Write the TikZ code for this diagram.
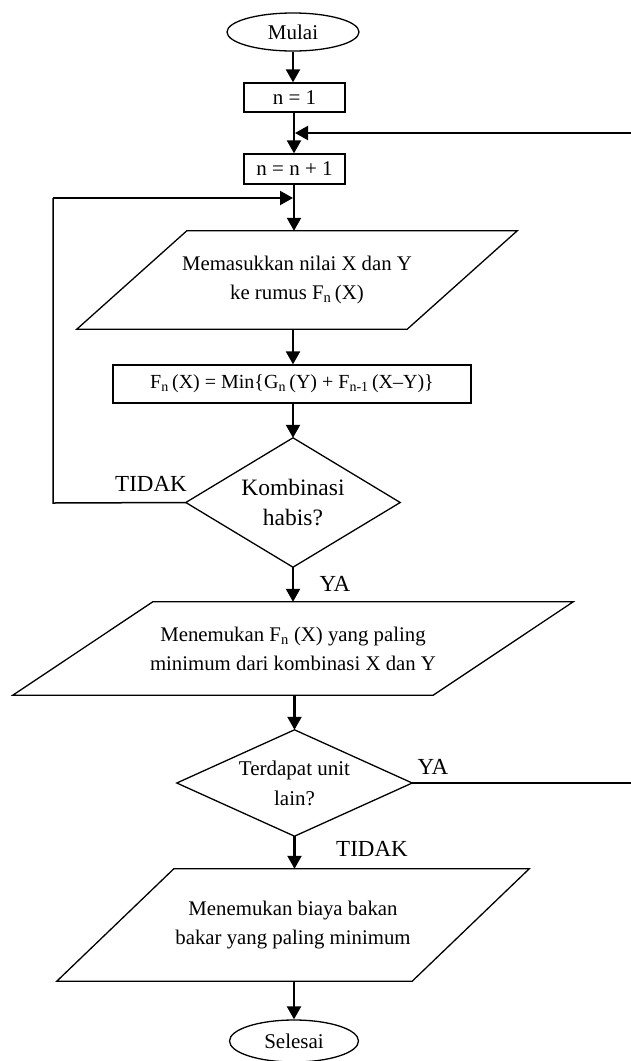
\documentclass[tikz,border=0pt]{standalone}
\usepackage{fontspec}
\setmainfont{Liberation Serif}
\usetikzlibrary{arrows.meta,shapes.geometric,calc}
\tikzset{
  shapeline/.style={line width=1.3pt, line join=miter},
  boxnode/.style={draw, shapeline, rectangle, inner sep=0pt, align=center, font=\fontsize{21}{29}\selectfont},
  ovalnode/.style={draw, shapeline, ellipse, inner sep=0pt, align=center, font=\fontsize{21}{29}\selectfont},
  holder/.style={draw=none, rectangle, inner sep=0pt, align=center, font=\fontsize{20.8}{29}\selectfont},
  bigholder/.style={holder, font=\fontsize{23.5}{30}\selectfont},
  lbl/.style={inner sep=0pt, font=\fontsize{23}{28}\selectfont},
  flow/.style={line width=2.2pt, -{Triangle[length=13pt,width=14pt]}},
  thinline/.style={line width=1.5pt},
}
\begin{document}
\begin{tikzpicture}[x=1pt,y=-1pt]
\useasboundingbox (0,0) rectangle (630,1061);

% nodes
\node[ovalnode, minimum width=132pt, minimum height=38pt] (mulai) at (293,32) {Mulai};
\node[boxnode, minimum width=101pt, minimum height=29pt] (n1) at (294.5,97.5) {n = 1};
\node[boxnode, minimum width=101pt, minimum height=30pt] (n2) at (294.5,169) {n = n + 1};
\node[holder, minimum width=440pt, minimum height=98pt] (p1) at (297,280)
  {Memasukkan nilai X dan Y\\ke rumus F\textsubscript{n}\,(X)};
\node[boxnode, font=\fontsize{20}{28}\selectfont, minimum width=358pt, minimum height=38pt] (fb) at (292,384)
  {F\textsubscript{n}\,(X) = Min\{G\textsubscript{n}\,(Y) + F\textsubscript{n-1}\,(X–Y)\}};
\node[bigholder, minimum width=214pt, minimum height=129pt] (d1) at (293,502.5)
  {Kombinasi\\habis?};
\node[holder, minimum width=560pt, minimum height=93pt] (p2) at (293,648.5)
  {Menemukan F\textsubscript{n} (X) yang paling\\minimum dari kombinasi X dan Y};
\node[holder, font=\fontsize{21}{30}\selectfont, minimum width=235pt, minimum height=106pt] (d2) at (294.5,783)
  {Terdapat unit\\lain?};
\node[holder, minimum width=472pt, minimum height=112pt] (p3) at (293,925)
  {Menemukan biaya bakan\\bakar yang paling minimum};
\node[ovalnode, minimum width=129pt, minimum height=42pt] (selesai) at (294,1041) {Selesai};

% parallelograms and diamonds
\draw[shapeline] ($(p1.north west)+(110,0)$) -- (p1.north east) -- ($(p1.south east)-(110,0)$) -- (p1.south west) -- cycle;
\draw[shapeline] ($(p2.north west)+(140,0)$) -- (p2.north east) -- ($(p2.south east)-(140,0)$) -- (p2.south west) -- cycle;
\draw[shapeline] ($(p3.north west)+(117,0)$) -- (p3.north east) -- ($(p3.south east)-(117,0)$) -- (p3.south west) -- cycle;
\draw[shapeline] (d1.north) -- (d1.east) -- (d1.south) -- (d1.west) -- cycle;
\draw[shapeline] (d2.north) -- (d2.east) -- (d2.south) -- (d2.west) -- cycle;

% labels
\node[lbl] (t1) at (151,484) {TIDAK};
\node[lbl] (y1) at (335,584) {YA};
\node[lbl] (y2) at (433,767) {YA};
\node[lbl] (t2) at (372,849) {TIDAK};

% junction coordinates
\coordinate (j1) at (294,133);
\coordinate (j2) at (294,198);
\coordinate (c1) at (53,503);
\coordinate (c2) at (53,198);
\coordinate (c3) at (640,783);
\coordinate (c4) at (640,133);
\coordinate (a1) at (293,0);

% connectors
\draw[flow] (mulai.south) -- (mulai.south |- n1.north);
\draw[flow] (n1.south -| j1) -- (n2.north -| j1);
\draw[flow] (n2.south -| j2) -- (p1.north -| j2);
\draw[flow] (p1.south -| a1) -- (fb.north -| a1);
\draw[flow] (fb.south -| d1.north) -- (d1.north);
\draw[flow] (d1.south) -- (p2.north -| d1.south);
\draw[flow] (p2.south -| d2.north) -- (d2.north);
\draw[flow] (d2.south) -- (p3.north -| d2.south);
\draw[flow] (p3.south -| selesai.north) -- (selesai.north);

% loops
\draw[thinline] (d1.west) -- (c1) -- (c2);
\draw[flow] (c2) -- ($(j2)+(-1,0)$);
\draw[thinline] (d2.east) -- (c3) -- (c4);
\draw[flow] (c4) -- ($(j1)+(1,0)$);
\end{tikzpicture}
\end{document}
